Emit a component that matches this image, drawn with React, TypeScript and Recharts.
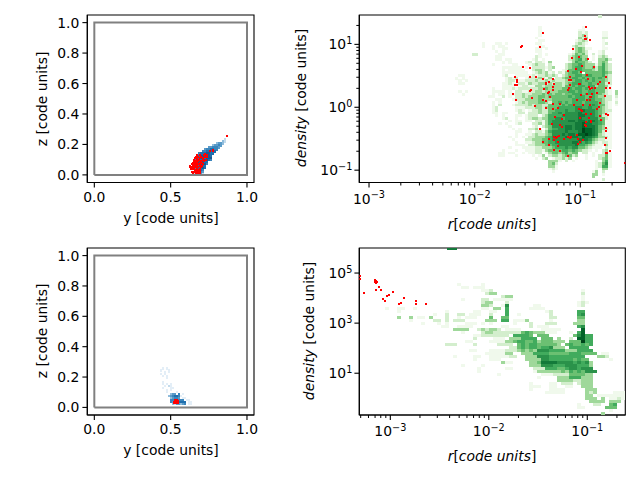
import React from 'react';
import { ScatterChart, Scatter, XAxis, YAxis, ReferenceArea } from 'recharts';

const FONT = '"DejaVu Sans", sans-serif';
const GREENS = ['', '#f0f9ec', '#d3eecd', '#9fd89a', '#6bc072', '#41ab5d', '#2a924a', '#137a3a', '#006428', '#00441b'];
const BLUES = ['', '#e3eef7', '#c3dbec', '#8fbcdc', '#5a9bc8', '#3a85bc', '#1f6fae', '#175a96', '#0f4a84', '#0b3a6c'];

const boxOutline = [{ x: 0, y: 0 }, { x: 0, y: 1 }, { x: 1, y: 1 }, { x: 1, y: 0 }, { x: 0, y: 0 }];
const unitTicksX = [0, 0.5, 1];
const unitTicksY = [0, 0.2, 0.4, 0.6, 0.8, 1];

const tlRows = [
  '',
  '.................2..',
  '................32..',
  '.............3443...',
  '...........34454....',
  '.........445554.....',
  '.......4556655......',
  '......5566666.......',
  '....56667766........',
  '...56777776.........',
  '..566776777.........',
  '..566677765.........',
  '..5677766...........',
  '..5667675...........',
  '..566766............',
  '..566676............',
  '..45665.............',
  '..45654.............',
  '..24542.............',
];
const tlRed: number[][] = [
  [0.648, 0.012], [0.665, 0.012], [0.675, 0.012], [0.685, 0.012], [0.695, 0.012],
  [0.64, 0.02], [0.655, 0.02], [0.665, 0.02], [0.68, 0.02], [0.69, 0.02],
  [0.66, 0.03], [0.672, 0.03], [0.685, 0.03], [0.695, 0.03],
  [0.632, 0.04], [0.645, 0.04], [0.655, 0.04], [0.67, 0.04], [0.69, 0.04],
  [0.63, 0.05], [0.64, 0.05], [0.655, 0.05], [0.668, 0.05], [0.68, 0.05], [0.7, 0.05],
  [0.63, 0.06], [0.648, 0.06], [0.662, 0.06], [0.675, 0.06], [0.69, 0.06], [0.705, 0.06],
  [0.638, 0.07], [0.652, 0.07], [0.668, 0.07], [0.68, 0.07], [0.695, 0.07], [0.715, 0.07],
  [0.645, 0.08], [0.66, 0.08], [0.672, 0.08], [0.69, 0.08], [0.705, 0.08],
  [0.65, 0.09], [0.665, 0.09], [0.68, 0.09], [0.7, 0.09], [0.72, 0.09],
  [0.655, 0.1], [0.67, 0.1], [0.685, 0.1], [0.71, 0.1], [0.73, 0.1],
  [0.66, 0.11], [0.675, 0.11], [0.695, 0.11], [0.715, 0.11],
  [0.665, 0.12], [0.68, 0.12], [0.7, 0.12], [0.725, 0.12], [0.735, 0.12],
  [0.67, 0.13], [0.69, 0.13], [0.72, 0.13], [0.74, 0.13],
  [0.725, 0.14], [0.76, 0.16], [0.78, 0.16], [0.775, 0.165], [0.87, 0.255],
];

const blRows = [
  '.1.1................',
  '1...1...............',
  '..1.1...............',
  '1.1.................',
  '.1.1................',
  '...1................',
  '',
  '.1..................',
  '.1.1.1..............',
  '..1.21..............',
  '.1...11.............',
  '...1.1..............',
  '...1....1...........',
  '.....344.5.1........',
  '....3456651.........',
  '.....34554.11.......',
  '.....55.5555.11.....',
  '.....54.66666.11....',
  '......3244345.11....',
];
const blRed: number[][] = [
  [0.525, 0.03], [0.535, 0.03], [0.545, 0.03], [0.525, 0.038], [0.535, 0.038], [0.545, 0.038],
  [0.53, 0.046], [0.54, 0.046], [0.55, 0.04], [0.55, 0.032],
];

const trRows = [
  '.......... .......... .......... .......... ...2......',
  '', '', '',
  '.......... .......... .....1.... ........1. ..........',
  '.......... .......... .....1.... .......11. ..........',
  '.......... .......... .....1.... .......212 ....11....',
  '.......... .......... .....1.... .......232 ....11....',
  '.......... .......... ....1..... .......323 ....22....',
  '.......... .......... .....11... ......1232 ....1.....',
  '........1. ..11.1.... ....11.... ......2321 ....12....',
  '........1. .1.11..... .....11... .....2322. ....1.....',
  '.......... .1..11.... ....11.1.. .....13431 1...11....',
  '.......... ..1.1..... ....11.... .....13432 ...12.....',
  '.....22... ...11..... .....1.1.. ....124342 .2.12.....',
  '.......... ..11...... ....21.... ....234433 .1.232....',
  '.......... ..11.11... ...12.1... ....234534 .1.3342...',
  '.......... ....1.1... .12.221.3. ....135443 2..343....',
  '.......... .1.....11. ..12322.2. ...2344543 3313532...',
  '.......... ....111111 .1.2222123 ...2345543 3424532...',
  '.......... ....1.1111 1..2332.2. ..12445544 4324532...',
  '.......... ....111111 11.1232312 .2134554.4 4444543...',
  '.11....... ....12..11 1112122323 2.23445545 5444532...',
  '1.1....... .....1212. .12223213. 2234455454 4545432...',
  '.1.1...... .....122.1 1222322323 2223345545 4544432...',
  '.11....... ....1121.2 2132233232 3323455544 5444422...',
  '.......... ....1111.1 2211332333 3324454554 5534431...',
  '.......... .1..111212 2222233433 3344545545 4544421...',
  '.1.1...... .1111.1.22 1122332333 3444554544 5544421.3.',
  '..1....... .1.11.1122 3223334343 4434455545 5544321.3.',
  '.......... 11..2.1.22 3233344344 4444545554 4543322.2.',
  '.......... ..11...122 2333343334 4444455554 5544322.1.',
  '.......... .1.1....12 3233344324 4545455545 5554321.2.',
  '.......... .1.2...122 2232332244 4454555555 5654421.1.',
  '.......... .12.....11 1222332344 4555556655 6554321...',
  '.......... .12.....12 1.12232244 5556556676 6654322...',
  '.......... .11.11...2 2.22232245 5656666766 6654321...',
  '.......... ..1.1...11 .1222.2355 5566666776 6654221...',
  '.......... ....12..1. .123323355 6656666766 6664421...',
  '.......... ......1.11 .11.221356 6666776776 7765411...',
  '.......... ...1.1..12 ...2231356 6666667787 7665411...',
  '.......... ......1... ...12.2346 6667767787 7764311...',
  '.......... .......1.1 ..2231.245 5667767798 8764321...',
  '.......... ........11 ..1.221356 6667666798 8764211...',
  '.......... ........1. .112322346 6676776889 8763211...',
  '.......... ......1.1. 1.22333456 7667677687 7653321...',
  '.......... .......1.. .223334456 6666666777 6432211...',
  '.......... ........1. .112334455 6666677656 5321221...',
  '.......... ........11 1.22333445 5666667554 3211131...',
  '.......... ......1... 1111223334 5556566443 2111.21...',
  '.......... ....1...1. .111221344 4455454322 1.1.23....',
  '.......... ...11.11.. 1.1122.134 4345344.22 .1..231...',
  '.......... ...11...1. ...1.13.23 3234423..1 .1.2241...',
  '.......... .......... ....1.23.1 22323.1..1 ...2341...',
  '.......... .......... ........33 31.2.1.... ..1.351...',
  '.......... .......... ........34 2......... ..12461...',
  '.......... .......... ........33 1......... ..12551...',
  '.......... .......... ........12 1......... ..1.33....',
  '.......... .......... .........1 .......... .13.2.....',
  '.......... .......... .......... .......... .33.1.....',
  '.......... .......... .......... .......... .3........',
  '.......... .......... .......... .......... ....2.....',
];
const trRed: number[][] = [
  [-0.948, 1.28], [-0.96, 1.13], [-0.96, 1.09], [-0.95, 1.08], [-0.91, 1.07], [-1.35, 1.18], [-1.55, 0.97], [-1.56, 0.96], [-1.38, 0.96], [-1.07, 0.92],
  [-1.08, 0.79], [-1.01, 0.8], [-0.98, 0.65], [-0.93, 0.77], [-0.87, 0.64], [-1.54, 0.64], [-1.48, 0.62], [-1.12, 0.57], [-1.04, 0.61], [-0.99, 0.56],
  [-0.94, 0.51], [-1.1, 0.48], [-1.11, 0.44], [-1.09, 0.44], [-1.62, 0.48], [-1.48, 0.48], [-1.42, 0.48], [-0.76, 0.48], [-1.35, 0.45], [-1.26, 0.45],
  [-1.6, 0.43], [-1.6, 0.4], [-1.32, 0.39], [-1.3, 0.4], [-1.32, 0.37], [-1.25, 0.37], [-1.62, 0.35], [-1.6, 0.35], [-1.1, 0.35], [-1.01, 0.37],
  [-1.0, 0.37], [-0.81, 0.4], [-0.83, 0.37], [-0.73, 0.39], [-0.93, 0.45], [-1.26, 0.32], [-1.11, 0.31], [-0.92, 0.32], [-0.86, 0.3], [-0.91, 0.29],
  [-0.89, 0.3], [-1.47, 0.28], [-1.34, 0.29], [-1.48, 0.26], [-1.26, 0.27], [-1.12, 0.27], [-0.76, 0.3], [-0.72, 0.3], [-1.3, 0.24], [-1.31, 0.23],
  [-1.64, 0.21], [-0.99, 0.19], [-0.94, 0.21], [-0.89, 0.21], [-0.84, 0.22], [-0.77, 0.18], [-1.29, 0.16], [-0.91, 0.17], [-1.46, 0.14], [-1.61, 0.11],
  [-1.35, 0.11], [-1.32, 0.1], [-0.9, 0.17], [-1.03, 0.11], [-0.94, 0.11], [-0.91, 0.11], [-0.97, 0.04], [-0.91, 0.04], [-0.81, 0.06], [-1.26, 0.05],
  [-1.19, 0.05], [-1.06, 0.03], [-1.43, 0.02], [-1.32, -0.01], [-1.26, -0.02], [-1.21, -0.01], [-0.82, 0.01], [-0.84, -0.02], [-1.01, -0.02], [-0.99, -0.04],
  [-0.98, -0.06], [-0.95, -0.11], [-0.9, -0.11], [-0.76, -0.1], [-0.74, -0.13], [-1.24, -0.15], [-1.15, -0.13], [-1.0, -0.17], [-0.92, -0.17], [-0.81, -0.14],
  [-1.17, -0.19], [-0.9, -0.22], [-0.8, -0.21], [-1.19, -0.28], [-0.96, -0.28], [-0.95, -0.24], [-0.9, -0.24], [-1.27, -0.27], [-1.38, -0.35], [-0.95, -0.29],
  [-1.17, -0.32], [-0.76, -0.33], [-0.76, -0.38], [-1.25, -0.48], [-1.2, -0.45], [-1.22, -0.48], [-1.23, -0.49], [-1.3, -0.5], [-1.25, -0.52], [-1.15, -0.5],
  [-1.12, -0.47], [-1.1, -0.49], [-1.03, -0.44], [-1.02, -0.5], [-1.35, -0.56], [-1.21, -0.56], [-1.09, -0.47], [-0.97, -0.52], [-1.0, -0.56], [-1.02, -0.59],
  [-1.3, -0.6], [-1.21, -0.62], [-0.76, -0.49], [-0.77, -0.6], [-1.25, -0.68], [-1.19, -0.7], [-1.12, -0.78], [-0.76, -0.72], [-0.75, -0.73], [-0.72, -0.7],
  [-0.58, -0.89],
];

const brRows = [
  '.......... ........1. ....1..... .......... .......... ..........',
  '.......... .........1 1.111..... .......... .......... ..........',
  '.......... .......... ....112... .......... .........1 ..........',
  '.......... .......... .....233.. .......... .........2 ..........',
  '.......... .......... .........2 33........ .........1 ..........',
  '.......... .........1 ....22.111 11........ .........1 ..........',
  '.......... .......... ....233... 2......... ........12 1.........',
  '.......... .......... ....332..1 6......11. ........12 ..........',
  '1..11..1.. .......... ....11.33. 5.....1111 .......... ..........',
  '...1...... .....1.... ..11..11.. 5......... 12......55 ..........',
  '.......... ..1..2..22 .111..2... 5..1...... .2......56 ..........',
  '...3..3.11 .3...2..1. 111...4..4 4......... .22.....44 ..........',
  '......1... ..22.2.222 .....333.5 5.1113.... .1......33 ..........',
  '.........1 ...1.1.... 111.1.1... ..1...2... 222....333 ..........',
  '.......... ....11..11 11.......1 1.....2.11 1.......56 ..........',
  '.......... .......333 3..232332. 1111.....1 1111.....8 ..........',
  '.......... .........1 ....233222 2222454333 111...1.58 ..........',
  '.......... .......... ..11222222 2.55554.44 4......468 55........',
  '.......... .......... ..2....111 .3335555.4 44.3..2.88 55........',
  '.......... .......... 11....1111 3345544534 44333.4449 55........',
  '.......... .....222.. ..2.....22 22.4545544 4443.45445 45........',
  '.......... .......... .......... .224545545 56333.5555 5.........',
  '.......... .......... .11...1111 2223434366 6555533355 55........',
  '.......... .......... .....11111 33..333555 5444445554 444.11....',
  '.......... .......1.. ..11..1111 122..33366 6555555555 ...332....',
  '.......... .......... ..1...111. .....33336 6555555454 4.....1...',
  '.......... .......... .........3 11....3347 7776666565 63........',
  '.......... .........1 ....1..... ......3336 6655566655 53........',
  '.......... .......... ...1...... 11.....222 5554456656 66........',
  '.......... .......... ...1...... .......133 3333435454 666.......',
  '.......... .......... ........1. .........1 1122224444 33........',
  '.......... .......... .......... ........1. ...3335553 33........',
  '.......... .......... .......... .......... ...3333223 33........',
  '.......... .......... .......... ......1... .11.222.23 33........',
  '.......... .......... .......... ......111. .11..11..3 33........',
  '.......... .......... .......... ......1... .1111..... 333.......',
  '.......... .......... .......... .......... 11111..... 323....111',
  '.......... .......... .......... .......... .......... 33.1111111',
  '.......... .......... .......... .......... .......... 333.3.1121',
  '.......... .......... .......... .......... .......... .3333.333.',
  '.......... .......... .......... .......... ........1. ..22..45..',
  '.......... .......... .......... .......... ........11 .....444..',
  '.......... .......... .......... .......... .......... ......1...',
  '.......... .......... .......... .......... .......... ....3.....',
];
const brTopBin = [{ x: 10 ** -2.39, y: 10 ** 5.99, level: 7 }, { x: 10 ** -2.35, y: 10 ** 5.99, level: 7 }];
const brRed: number[][] = [
  [-3.31, 4.89], [-3.31, 4.76], [-3.27, 4.22], [-3.16, 4.71], [-3.155, 4.65], [-3.148, 4.68], [-3.145, 4.6], [-3.135, 4.625], [-3.145, 4.33], [-3.115, 4.425],
  [-3.09, 4.305], [-3.077, 3.97], [-3.054, 3.865], [-3.033, 4.065], [-3.013, 4.13], [-2.972, 4.225], [-2.91, 3.745], [-2.895, 3.81], [-2.86, 3.985],
  [-2.739, 3.89], [-2.739, 3.745], [-2.637, 3.745],
];

type Bin = { x: number; y: number; level: number };
const linBins = (rows: string[], x0: number, dx: number, y0: number, dy: number): Bin[] =>
  rows.flatMap((row, r) =>
    row.replace(/ /g, '').split('').flatMap((ch, c) =>
      ch === '.' ? [] : [{ x: x0 + c * dx, y: y0 - r * dy, level: Number(ch) }]));
const logBins = (rows: string[], x0: number, dx: number, y0: number, dy: number): Bin[] =>
  linBins(rows, x0, dx, y0, dy).map((b) => ({ ...b, x: 10 ** b.x, y: 10 ** b.y }));
const toPts = (a: number[][]) => a.map(([x, y]) => ({ x, y }));
const toLogPts = (a: number[][]) => a.map(([x, y]) => ({ x: 10 ** x, y: 10 ** y }));

const cellShape = (w: number, h: number, pal: string[]) => (p: any) =>
  <rect x={p.cx - w / 2} y={p.cy - h / 2} width={w} height={h} fill={pal[p.payload.level]} shapeRendering="crispEdges" />;
const redShape = (s: number) => (p: any) =>
  <rect x={p.cx - s / 2} y={p.cy - s / 2} width={s} height={s} fill="#ff0000" shapeRendering="crispEdges" />;
const noShape = () => <g />;

const TICK = 4.9;
const LinX = ({ x, y, payload }: any) => (
  <g>
    <line x1={x} x2={x} y1={y} y2={y + TICK} stroke="#000" strokeWidth={1.1} />
    <text x={x} y={y + 19} textAnchor="middle" fontSize={13.9} fontFamily={FONT}>{payload.value.toFixed(1)}</text>
  </g>
);
const LinY = ({ x, y, payload }: any) => (
  <g>
    <line x1={x} x2={x - TICK} y1={y} y2={y} stroke="#000" strokeWidth={1.1} />
    <text x={x - 8} y={y + 5} textAnchor="end" fontSize={13.9} fontFamily={FONT}>{payload.value.toFixed(1)}</text>
  </g>
);
const isDecade = (v: number) => Math.abs(Math.log10(v) - Math.round(Math.log10(v))) < 1e-6;
const powParts = (v: number) => {
  const e = Math.round(Math.log10(v));
  return e < 0 ? '\u2212' + -e : String(e);
};
const LogX = ({ x, y, payload }: any) => {
  const major = isDecade(payload.value);
  return (
    <g>
      <line x1={x} x2={x} y1={y} y2={y + (major ? TICK : 3)} stroke="#000" strokeWidth={major ? 1.1 : 1} />
      {major && (
        <text x={x} y={y + 21} textAnchor="middle" fontSize={13.9} fontFamily={FONT}>
          10<tspan dy={-5.5} fontSize={9.7}>{powParts(payload.value)}</tspan>
        </text>
      )}
    </g>
  );
};
const LogY = ({ x, y, payload }: any) => {
  const major = isDecade(payload.value);
  return (
    <g>
      <line x1={x} x2={x - (major ? TICK : 3)} y1={y} y2={y} stroke="#000" strokeWidth={major ? 1.1 : 1} />
      {major && (
        <text x={x - 7} y={y + 5} textAnchor="end" fontSize={13.9} fontFamily={FONT}>
          10<tspan dy={-5.5} fontSize={9.7}>{powParts(payload.value)}</tspan>
        </text>
      )}
    </g>
  );
};

const logTicks = (from: number, to: number, lo: number, hi: number) => {
  const out: number[] = [];
  for (let e = from; e <= to; e++) for (let m = 1; m < 10; m++) {
    const v = m * 10 ** e;
    if (v >= lo && v <= hi) out.push(Number(v.toPrecision(3)));
  }
  return out;
};

const W = 640, H = 480, YW = 40, XH = 30;
const box = (l: number, t: number, r: number, b: number) => ({ left: l - YW, top: t, right: W - r, bottom: H - b - XH });
const abs: React.CSSProperties = { position: 'absolute', left: 0, top: 0 };

const xLab = (cx: number, cy: number, parts: [string, boolean][]) => (
  <text x={cx} y={cy} textAnchor="middle" fontSize={13.9} fontFamily={FONT}>
    {parts.map(([t, it], i) => <tspan key={i} fontStyle={it ? 'italic' : 'normal'}>{t}</tspan>)}
  </text>
);
const yLab = (cx: number, cy: number, parts: [string, boolean][]) => (
  <text transform={`translate(${cx},${cy}) rotate(-90)`} textAnchor="middle" fontSize={13.9} fontFamily={FONT}>
    {parts.map(([t, it], i) => <tspan key={i} fontStyle={it ? 'italic' : 'normal'}>{t}</tspan>)}
  </text>
);

function UnitPanel({ l, t, r, b, bins, red, redSize, cw, ch }: any) {
  return (
    <ScatterChart width={W} height={H} margin={box(l, t, r, b)} style={abs}>
      <XAxis type="number" dataKey="x" domain={[-0.046, 1.046]} ticks={unitTicksX} allowDataOverflow tick={LinX} tickLine={false} tickSize={0} tickMargin={0} axisLine={{ stroke: '#000', strokeWidth: 1.1 }} height={XH} interval={0} />
      <YAxis type="number" dataKey="y" domain={[-0.05, 1.05]} ticks={unitTicksY} allowDataOverflow tick={LinY} tickLine={false} tickSize={0} tickMargin={0} axisLine={{ stroke: '#000', strokeWidth: 1.1 }} width={YW} interval={0} />
      <ReferenceArea x1={-0.046} x2={1.046} y1={-0.05} y2={1.05} fill="none" stroke="#000" strokeWidth={1.1} />
      <Scatter data={bins} shape={cellShape(cw, ch, BLUES)} isAnimationActive={false} />
      <Scatter data={toPts(red)} shape={redShape(redSize)} isAnimationActive={false} />
      <Scatter data={boxOutline} line={{ stroke: '#808080', strokeWidth: 2 }} shape={noShape} isAnimationActive={false} />
    </ScatterChart>
  );
}

function LogPanel({ l, t, r, b, xd, yd, xt, yt, bins, extra, red, cw, ch }: any) {
  return (
    <ScatterChart width={W} height={H} margin={box(l, t, r, b)} style={abs}>
      <XAxis type="number" scale="log" dataKey="x" domain={xd} ticks={xt} allowDataOverflow tick={LogX} tickLine={false} tickSize={0} tickMargin={0} axisLine={{ stroke: '#000', strokeWidth: 1.1 }} height={XH} interval={0} minTickGap={0} />
      <YAxis type="number" scale="log" dataKey="y" domain={yd} ticks={yt} allowDataOverflow tick={LogY} tickLine={false} tickSize={0} tickMargin={0} axisLine={{ stroke: '#000', strokeWidth: 1.1 }} width={YW} interval={0} minTickGap={0} />
      <ReferenceArea x1={xd[0]} x2={xd[1]} y1={yd[0]} y2={yd[1]} fill="none" stroke="#000" strokeWidth={1.1} />
      <Scatter data={bins} shape={cellShape(cw, ch, GREENS)} isAnimationActive={false} />
      {extra && <Scatter data={extra} shape={cellShape(6, 3, GREENS)} isAnimationActive={false} />}
      <Scatter data={toLogPts(red)} shape={redShape(2)} isAnimationActive={false} />
    </ScatterChart>
  );
}

const trXD = [10 ** -3.092, 10 ** -0.574];
const trYD = [10 ** -1.196, 10 ** 1.467];
const brXD = [10 ** -3.315, 10 ** -0.614];
const brYD = [10 ** -0.668, 10 ** 6.0];
const brYTicks = [10, 1000, 100000];

export default function App() {
  return (
    <div style={{ position: 'absolute', left: 0, top: 0, width: W, height: H, background: '#fff', overflow: 'hidden' }}>
      <UnitPanel l={87.3} t={15} r={254} b={182.5} bins={linBins(tlRows, 0.634, 0.01307, 0.2454, 0.01316)} red={tlRed} redSize={2} cw={2.1} ch={2.1} />
      <UnitPanel l={87.3} t={248} r={254} b={415} bins={linBins(blRows, 0.4379, 0.01307, 0.2566, 0.01316)} red={blRed} redSize={2} cw={2.1} ch={2.1} />
      <LogPanel l={359.3} t={15} r={625.3} b={182.5} xd={trXD} yd={trYD} xt={logTicks(-3, -1, trXD[0], trXD[1])} yt={logTicks(-1, 1, trYD[0], trYD[1])}
        bins={logBins(trRows, -2.17, 0.03157, 1.44, 0.0425)} red={trRed} cw={3.4} ch={2.8} />
      <LogPanel l={359.3} t={248} r={625.3} b={415} xd={brXD} yd={brYD} xt={logTicks(-4, -1, brXD[0], brXD[1])} yt={brYTicks}
        bins={logBins(brRows, -3.03, 0.0406, 4.56, 0.12)} extra={brTopBin} red={brRed} cw={4.1} ch={3.1} />
      <svg width={W} height={H} style={{ ...abs, pointerEvents: 'none' }}>
        {xLab(171, 223, [['y [code units]', false]])}
        {yLab(47, 99, [['z [code units]', false]])}
        {xLab(171, 455, [['y [code units]', false]])}
        {yLab(47, 331, [['z [code units]', false]])}
        {xLab(492, 229, [['r', true], ['[', false], ['code units', true], [']', false]])}
        {yLab(306, 98, [['density', true], [' [code units]', false]])}
        {xLab(492, 461, [['r', true], ['[', false], ['code units', true], [']', false]])}
        {yLab(314, 331, [['density', true], [' [code units]', false]])}
      </svg>
    </div>
  );
}
